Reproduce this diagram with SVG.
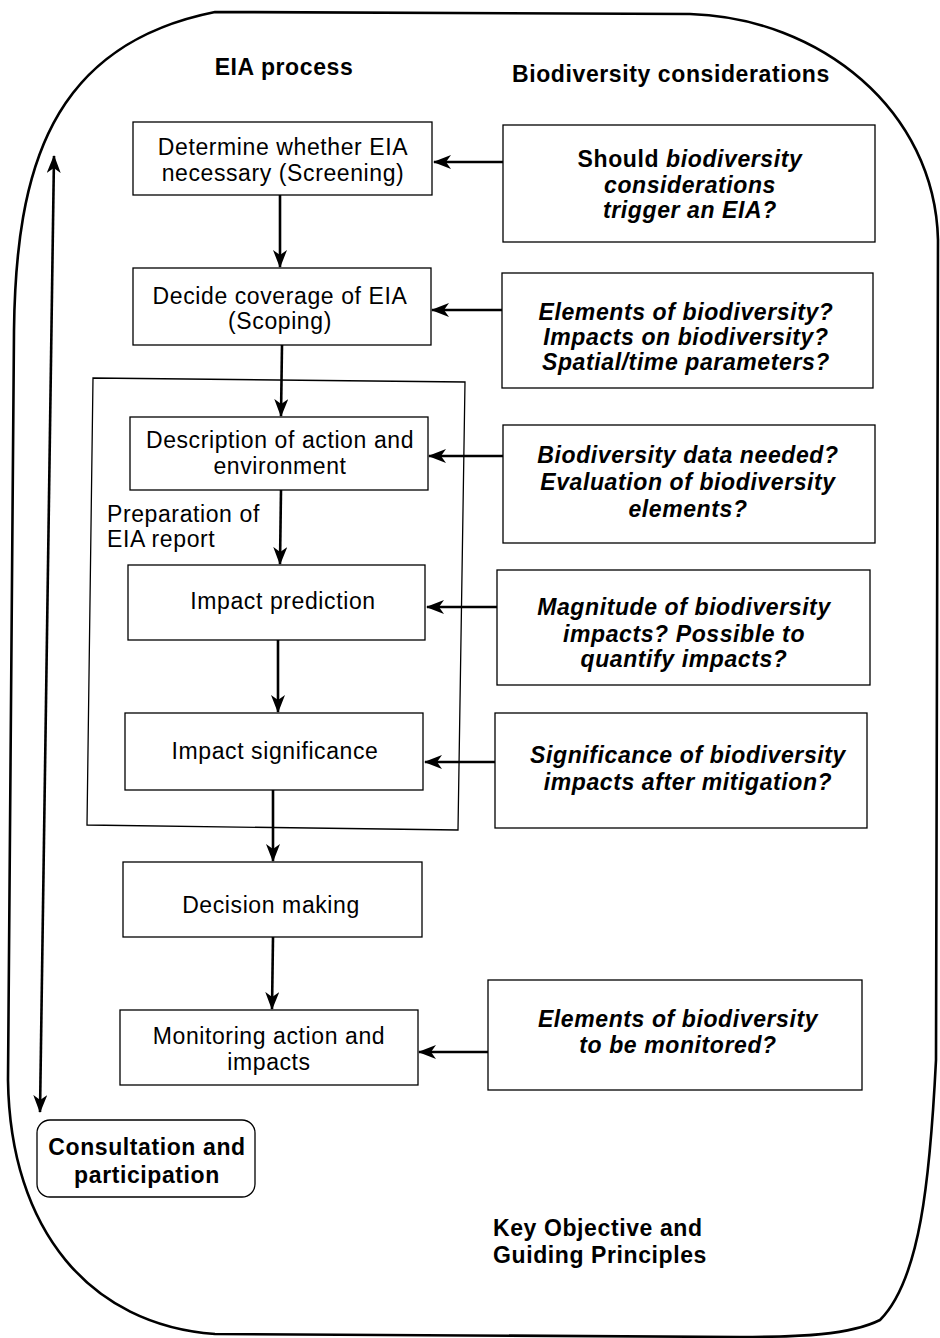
<svg xmlns="http://www.w3.org/2000/svg" width="940" height="1338" viewBox="0 0 940 1338">
<defs>
<marker id="ah" markerUnits="userSpaceOnUse" markerWidth="20" markerHeight="14" refX="17" refY="7" orient="auto-start-reverse" viewBox="0 0 20 14">
<path d="M0,0 L18,7 L0,14 L5,7 Z" fill="#000"/>
</marker>
<style>
.box{fill:#fff;stroke:#000;stroke-width:1.3}
.t{font-family:"Liberation Sans",Arial,sans-serif;font-size:23px;letter-spacing:0.6px;fill:#000;text-anchor:middle}
.s{font-family:"Liberation Sans",Arial,sans-serif;font-size:23px;letter-spacing:0.6px;fill:#000;text-anchor:start}
.b{font-weight:bold}
.bi{font-weight:bold;font-style:italic}
.h{font-family:"Liberation Sans",Arial,sans-serif;font-size:23px;letter-spacing:0.6px;font-weight:bold;fill:#000}
.c{fill:none;stroke:#000;stroke-width:2.6;marker-end:url(#ah)}
</style>
</defs>
<rect x="0" y="0" width="940" height="1338" fill="#fff"/>
<g id="frame">
<path d="M215,12 L690,14 C820,18 935,110 938,240 L936,1060 C930,1180 920,1280 880,1320 C850,1335 800,1337 740,1337 L215,1334 C90,1325 10,1230 8,1080 L14,330 C16,170 50,45 215,12 Z" fill="none" stroke="#000" stroke-width="2.6"/>
<text class="h" x="284" y="75" text-anchor="middle">EIA process</text>
<text class="h" x="512" y="82">Biodiversity considerations</text>
<text class="h" x="493" y="1236">Key Objective and</text>
<text class="h" x="493" y="1263">Guiding Principles</text>
</g>
<g id="prep">
<polygon points="93,378 465,382 458,830 87,825" fill="none" stroke="#000" stroke-width="1.3"/>
<text class="s" x="107" y="522">Preparation of</text>
<text class="s" x="107" y="547">EIA report</text>
</g>
<g id="screening">
<rect class="box" x="133" y="122" width="299" height="73"/>
<text class="t" x="283" y="155">Determine whether EIA</text>
<text class="t" x="283" y="181">necessary (Screening)</text>
</g>
<g id="scoping">
<rect class="box" x="133" y="268" width="298" height="77"/>
<text class="t" x="280" y="304">Decide coverage of EIA</text>
<text class="t" x="280" y="329">(Scoping)</text>
</g>
<g id="description">
<rect class="box" x="130" y="417" width="298" height="73"/>
<text class="t" x="280" y="448">Description of action and</text>
<text class="t" x="280" y="474">environment</text>
</g>
<g id="prediction">
<rect class="box" x="128" y="565" width="297" height="75"/>
<text class="t" x="283" y="609">Impact prediction</text>
</g>
<g id="significance">
<rect class="box" x="125" y="713" width="298" height="77"/>
<text class="t" x="275" y="759">Impact significance</text>
</g>
<g id="decision">
<rect class="box" x="123" y="862" width="299" height="75"/>
<text class="t" x="271" y="913">Decision making</text>
</g>
<g id="monitoring">
<rect class="box" x="120" y="1010" width="298" height="75"/>
<text class="t" x="269" y="1044">Monitoring action and</text>
<text class="t" x="269" y="1070">impacts</text>
</g>
<g id="consultation">
<rect class="box" x="37" y="1120" width="218" height="77" rx="13" stroke-width="2.2"/>
<text class="t b" x="147" y="1155">Consultation and</text>
<text class="t b" x="147" y="1183">participation</text>
</g>
<g id="q-trigger">
<rect class="box" x="503" y="125" width="372" height="117"/>
<text class="t b" x="690" y="167">Should <tspan class="bi">biodiversity</tspan></text>
<text class="t bi" x="690" y="193">considerations</text>
<text class="t bi" x="690" y="218">trigger an EIA?</text>
</g>
<g id="q-scoping">
<rect class="box" x="502" y="273" width="371" height="115"/>
<text class="t bi" x="686" y="320">Elements of biodiversity?</text>
<text class="t bi" x="686" y="345">Impacts on biodiversity?</text>
<text class="t bi" x="686" y="370">Spatial/time parameters?</text>
</g>
<g id="q-data">
<rect class="box" x="503" y="425" width="372" height="118"/>
<text class="t bi" x="688" y="463">Biodiversity data needed?</text>
<text class="t bi" x="688" y="490">Evaluation of  biodiversity</text>
<text class="t bi" x="688" y="517">elements?</text>
</g>
<g id="q-magnitude">
<rect class="box" x="497" y="570" width="373" height="115"/>
<text class="t bi" x="684" y="615">Magnitude of biodiversity</text>
<text class="t bi" x="684" y="642">impacts? Possible to</text>
<text class="t bi" x="684" y="667">quantify impacts?</text>
</g>
<g id="q-significance">
<rect class="box" x="495" y="713" width="372" height="115"/>
<text class="t bi" x="688" y="763">Significance of biodiversity</text>
<text class="t bi" x="688" y="790">impacts after mitigation?</text>
</g>
<g id="q-monitor">
<rect class="box" x="488" y="980" width="374" height="110"/>
<text class="t bi" x="678" y="1027">Elements of biodiversity</text>
<text class="t bi" x="678" y="1053">to be monitored?</text>
</g>
<g id="connectors">
<path class="c" d="M280,195 L280,267"/>
<path class="c" d="M282,345 L281,416"/>
<path class="c" d="M281,490 L280,564"/>
<path class="c" d="M278,640 L278,712"/>
<path class="c" d="M273,790 L273,861"/>
<path class="c" d="M273,937 L272,1009"/>
<path class="c" d="M503,162 L434,162"/>
<path class="c" d="M502,310 L432,310"/>
<path class="c" d="M503,456 L429,456"/>
<path class="c" d="M497,607 L427,607"/>
<path class="c" d="M495,762 L425,762"/>
<path class="c" d="M488,1052 L419,1052"/>
<path d="M54,156 L40,1112" fill="none" stroke="#000" stroke-width="2.6" marker-start="url(#ah)" marker-end="url(#ah)"/>
</g>
</svg>
